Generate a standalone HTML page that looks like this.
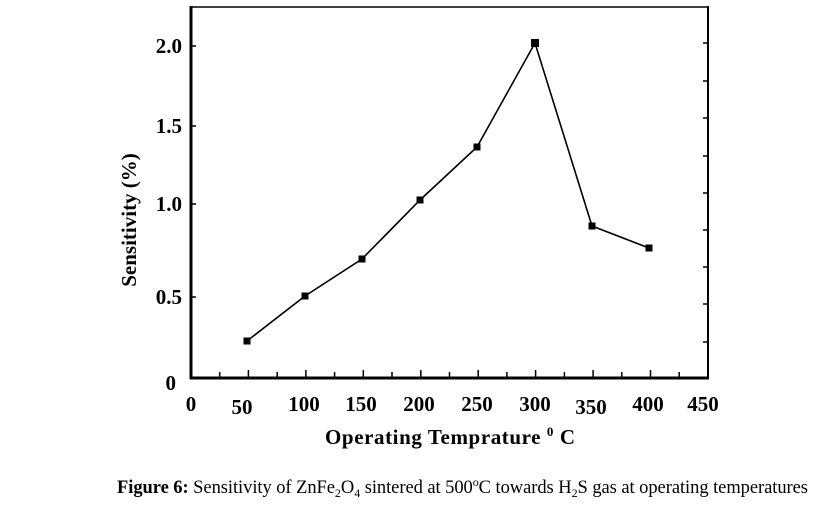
<!DOCTYPE html>
<html><head><meta charset="utf-8"><style>
body{margin:0;background:#fff;}
svg{display:block;}
</style></head><body>
<svg width="822" height="505" viewBox="0 0 822 505" xmlns="http://www.w3.org/2000/svg" font-family="Liberation Serif, serif">
<rect width="822" height="505" fill="#fff"/>
<line x1="191" y1="6" x2="191" y2="379" stroke="#000" stroke-width="3"/>
<line x1="190" y1="378" x2="709" y2="378" stroke="#000" stroke-width="3"/>
<line x1="191" y1="7" x2="708" y2="7" stroke="#000" stroke-width="1.5"/>
<line x1="708" y1="6" x2="708" y2="379" stroke="#000" stroke-width="2"/>
<g stroke="#000" stroke-width="1.5">
<line x1="703" y1="43" x2="708" y2="43"/><line x1="703" y1="81" x2="708" y2="81"/><line x1="703" y1="118" x2="708" y2="118"/><line x1="703" y1="156" x2="708" y2="156"/><line x1="703" y1="193" x2="708" y2="193"/><line x1="703" y1="230" x2="708" y2="230"/><line x1="703" y1="267" x2="708" y2="267"/><line x1="703" y1="304" x2="708" y2="304"/><line x1="703" y1="342" x2="708" y2="342"/>
<line x1="191" y1="46" x2="196" y2="46"/><line x1="191" y1="126" x2="196" y2="126"/><line x1="191" y1="204" x2="196" y2="204"/><line x1="191" y1="297" x2="196" y2="297"/>
</g>
<g stroke="#000" stroke-width="1.5">
<line x1="219.7" y1="372" x2="219.7" y2="378"/><line x1="248.4" y1="370" x2="248.4" y2="378"/><line x1="277.2" y1="372" x2="277.2" y2="378"/><line x1="305.9" y1="370" x2="305.9" y2="378"/><line x1="334.6" y1="372" x2="334.6" y2="378"/><line x1="363.3" y1="370" x2="363.3" y2="378"/><line x1="392" y1="372" x2="392" y2="378"/><line x1="420.8" y1="370" x2="420.8" y2="378"/><line x1="449.5" y1="372" x2="449.5" y2="378"/><line x1="478.2" y1="370" x2="478.2" y2="378"/><line x1="506.9" y1="372" x2="506.9" y2="378"/><line x1="535.6" y1="370" x2="535.6" y2="378"/><line x1="564.4" y1="372" x2="564.4" y2="378"/><line x1="593.1" y1="370" x2="593.1" y2="378"/><line x1="621.8" y1="372" x2="621.8" y2="378"/><line x1="650.5" y1="370" x2="650.5" y2="378"/><line x1="679.2" y1="372" x2="679.2" y2="378"/>
</g>
<g font-size="21" font-weight="bold" text-anchor="end" fill="#000">
<text x="182" y="53">2.0</text><text x="182" y="133">1.5</text><text x="182" y="211">1.0</text><text x="182" y="304">0.5</text><text x="176" y="390">0</text>
</g>
<g font-size="21" font-weight="bold" text-anchor="middle" fill="#000">
<text x="191" y="411">0</text><text x="242" y="414">50</text><text x="304" y="411">100</text><text x="361" y="411">150</text><text x="419" y="411">200</text><text x="477" y="411">250</text><text x="535" y="411">300</text><text x="591" y="414">350</text><text x="648" y="411">400</text><text x="703" y="411">450</text>
</g>
<text x="450" y="444" font-size="21" font-weight="bold" text-anchor="middle" textLength="250">Operating  Temprature <tspan dy="-8" font-size="13">0</tspan><tspan dy="8"> C</tspan></text>
<text transform="translate(136,220) rotate(-90)" font-size="21" font-weight="bold" text-anchor="middle">Sensitivity (%)</text>
<polyline fill="none" stroke="#000" stroke-width="1.6" points="247,341 305,296 362,259 420,200 477,147 535,43 592,226 649,248"/>
<g fill="#000">
<rect x="243.5" y="337.5" width="7" height="7"/><rect x="301.5" y="292.5" width="7" height="7"/><rect x="358.5" y="255.5" width="7" height="7"/><rect x="416.5" y="196.5" width="7" height="7"/><rect x="473.5" y="143.5" width="7" height="7"/><rect x="531" y="39" width="8" height="8"/><rect x="588.5" y="222.5" width="7" height="7"/><rect x="645.5" y="244.5" width="7" height="7"/>
</g>
<text x="117" y="493" font-size="18.5" textLength="691"><tspan font-weight="bold">Figure 6:</tspan> Sensitivity of ZnFe<tspan dy="4" font-size="12">2</tspan><tspan dy="-4">O</tspan><tspan dy="4" font-size="12">4</tspan><tspan dy="-4"> sintered at 500</tspan><tspan dy="-7" font-size="12">o</tspan><tspan dy="7">C towards H</tspan><tspan dy="4" font-size="12">2</tspan><tspan dy="-4">S gas at operating temperatures</tspan></text>
</svg>
</body></html>
